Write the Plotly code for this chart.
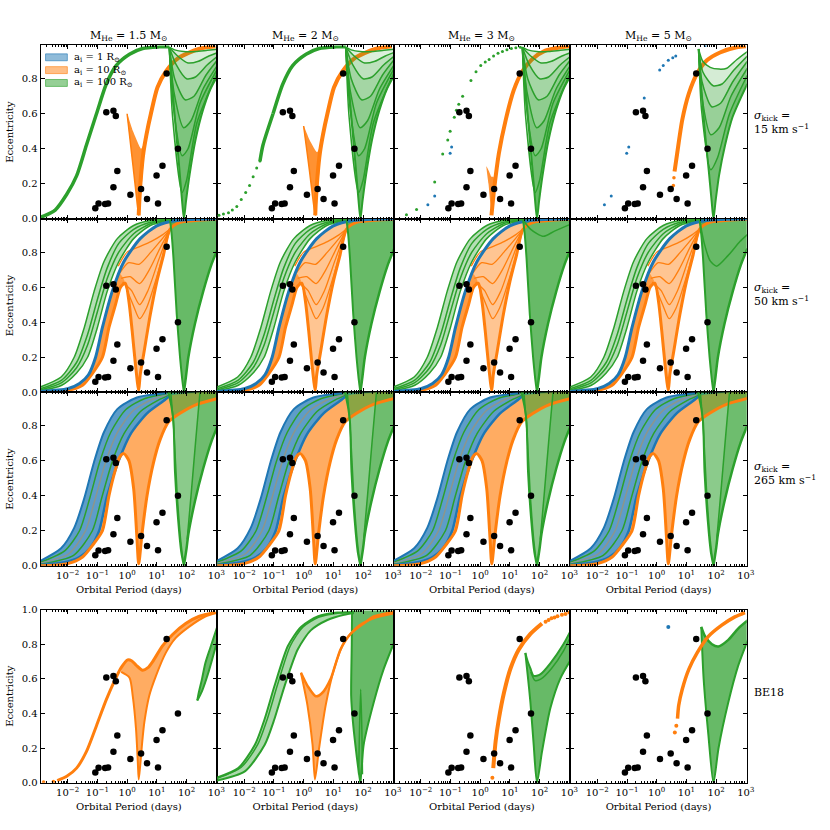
import plotly.graph_objects as go

BLUE = (31, 119, 180)
ORANGE = (255, 127, 14)
GREEN = (44, 160, 44)

# observed systems: log10 period [days], eccentricity
obs_logp = [-1.07, -0.96, -0.74, -0.64, -0.46, -0.33, -0.70, -0.46, -0.38,
            0.11, 0.47, 0.67, 0.99, 1.04, 1.19, 1.33, 1.71]
obs_ecc = [0.06, 0.087, 0.085, 0.088, 0.18, 0.273, 0.608, 0.617, 0.587,
           0.137, 0.17, 0.113, 0.248, 0.088, 0.303, 0.83, 0.40]

col_titles = ["M<sub>He</sub> = 1.5 M<sub>⊙</sub>", "M<sub>He</sub> = 2 M<sub>⊙</sub>",
              "M<sub>He</sub> = 3 M<sub>⊙</sub>", "M<sub>He</sub> = 5 M<sub>⊙</sub>"]
row_labels = ["<i>σ</i><sub>kick</sub> =<br>15 km s<sup>−1</sup>",
              "<i>σ</i><sub>kick</sub> =<br>50 km s<sup>−1</sup>",
              "<i>σ</i><sub>kick</sub> =<br>265 km s<sup>−1</sup>",
              "BE18"]
legend_names = ["a<sub>i</sub> = 1 R<sub>⊙</sub>", "a<sub>i</sub> = 10 R<sub>⊙</sub>",
                "a<sub>i</sub> = 100 R<sub>⊙</sub>"]
xtick_vals = [1e-2, 1e-1, 1e0, 1e1, 1e2, 1e3]
xtick_text = ["10<sup>−2</sup>", "10<sup>−1</sup>", "10<sup>0</sup>",
              "10<sup>1</sup>", "10<sup>2</sup>", "10<sup>3</sup>"]

# ---- curves, (log10 P, e) ----
# sigma = 15
g1_sig = [(-2.9, 0.01), (-2.81, 0.015), (-2.42, 0.05), (-2.03, 0.14), (-1.7, 0.245),
          (-1.37, 0.42), (-1.03, 0.6), (-0.7, 0.77), (-0.37, 0.875), (0.08, 0.94),
          (0.52, 0.973), (1.08, 0.982), (1.42, 0.983)]
g12_dots = [(-2.85, 0.02), (-2.7, 0.028), (-2.53, 0.035), (-2.4, 0.05), (-2.25, 0.07),
            (-2.1, 0.11), (-1.95, 0.15), (-1.82, 0.19), (-1.7, 0.24), (-1.58, 0.29),
            (-1.47, 0.33)]
o1_rise = [(0.39, 0.02), (0.41, 0.1), (0.47, 0.25), (0.55, 0.38), (0.65, 0.48), (0.8, 0.6),
           (1.02, 0.75), (1.3, 0.84), (1.74, 0.92), (2.41, 0.97), (2.97, 0.985)]
v11_up = [(0.0, 0.6), (0.2, 0.5), (0.47, 0.4), (0.55, 0.42)]
v11_lo = [(0.0, 0.6), (0.1, 0.45), (0.2, 0.3), (0.3, 0.15), (0.39, 0.02), (0.45, 0.15),
          (0.52, 0.3), (0.55, 0.38)]
v12_up = [(0.0, 0.53), (0.2, 0.45), (0.45, 0.38), (0.53, 0.4)]
v12_lo = [(0.0, 0.53), (0.1, 0.4), (0.2, 0.27), (0.3, 0.13), (0.39, 0.02), (0.45, 0.15),
          (0.53, 0.33)]
f1_lower = [(1.42, 0.98), (1.5, 0.8), (1.62, 0.55), (1.75, 0.3), (1.84, 0.12), (1.91, 0.0),
            (1.98, 0.1), (2.1, 0.25), (2.3, 0.45), (2.55, 0.62), (2.8, 0.74), (3.05, 0.82)]
f1_lines = [
    [(1.42, 0.98), (1.6, 0.965), (1.9, 0.955), (2.3, 0.955), (2.7, 0.962), (3.05, 0.968)],
    [(1.42, 0.98), (1.7, 0.93), (2.05, 0.89), (2.4, 0.9), (2.75, 0.93), (3.05, 0.95)],
    [(1.42, 0.98), (1.65, 0.88), (2.0, 0.8), (2.3, 0.81), (2.7, 0.88), (3.05, 0.93)],
    [(1.42, 0.98), (1.6, 0.8), (1.95, 0.68), (2.25, 0.7), (2.65, 0.82), (3.05, 0.91)],
    [(1.42, 0.98), (1.58, 0.72), (1.9, 0.52), (2.15, 0.56), (2.55, 0.74), (3.05, 0.88)],
    [(1.42, 0.98), (1.55, 0.65), (1.85, 0.36), (2.05, 0.4), (2.45, 0.66), (3.05, 0.86)],
    [(1.42, 0.98), (1.53, 0.58), (1.85, 0.15), (2.0, 0.22), (2.35, 0.55), (3.05, 0.84)],
]
g13_dots = [(-2.48, 0.024), (-2.14, 0.053), (-1.53, 0.21), (-1.26, 0.37), (-1.09, 0.45),
            (-1.01, 0.5), (-0.87, 0.58), (-0.8, 0.62), (-0.72, 0.655), (-0.59, 0.7),
            (-0.31, 0.79), (-0.14, 0.84), (0.02, 0.875), (0.17, 0.895), (0.3, 0.91),
            (0.45, 0.93), (0.6, 0.945), (0.75, 0.955), (0.9, 0.965), (1.05, 0.972),
            (1.2, 0.977), (1.35, 0.98)]
b13_dots = [(-1.76, 0.08), (-1.53, 0.13), (-1.01, 0.375), (-0.96, 0.41)]
v13 = [(0.21, 0.3), (0.28, 0.2), (0.34, 0.09), (0.38, 0.02), (0.43, 0.1), (0.47, 0.17),
       (0.45, 0.24), (0.38, 0.24), (0.3, 0.27), (0.21, 0.3)]
o13_rise = [(0.38, 0.02), (0.47, 0.17), (0.63, 0.375), (0.86, 0.565), (1.13, 0.735),
            (1.41, 0.84), (1.74, 0.91), (2.19, 0.96), (2.74, 0.98), (3.0, 0.985)]
b14_dots = [(-1.76, 0.08), (-1.53, 0.13), (-1.01, 0.375), (-0.94, 0.41), (-0.42, 0.69),
            (0.1, 0.85), (0.22, 0.875), (0.39, 0.905), (0.54, 0.92), (0.64, 0.93), (1.63, 0.99)]
o14_dots = [(0.56, 0.19), (0.58, 0.235)]
o14_rise = [(0.6, 0.27), (0.69, 0.375), (0.86, 0.565), (1.08, 0.715), (1.36, 0.83),
            (1.69, 0.905), (2.13, 0.95), (2.69, 0.98), (3.0, 0.985)]
f4_lower = [(1.41, 0.97), (1.5, 0.75), (1.62, 0.5), (1.75, 0.28), (1.85, 0.1), (1.91, 0.0),
            (1.98, 0.1), (2.1, 0.25), (2.3, 0.42), (2.55, 0.58), (2.8, 0.68), (3.05, 0.77)]
f4_lines = [
    [(1.41, 0.97), (1.55, 0.9), (1.8, 0.865), (2.1, 0.855), (2.36, 0.86), (2.7, 0.91), (3.05, 0.955)],
    [(1.41, 0.97), (1.55, 0.84), (1.9, 0.76), (2.2, 0.77), (2.6, 0.85), (3.05, 0.93)],
    [(1.41, 0.97), (1.53, 0.78), (1.85, 0.64), (2.15, 0.66), (2.55, 0.78), (3.05, 0.9)],
    [(1.41, 0.97), (1.52, 0.7), (1.82, 0.48), (2.1, 0.52), (2.5, 0.7), (3.05, 0.86)],
    [(1.41, 0.97), (1.51, 0.62), (1.82, 0.28), (2.05, 0.35), (2.45, 0.6), (3.05, 0.82)],
]

# sigma = 50
g2_left = [(-2.92, 0.03), (-2.22, 0.087), (-1.78, 0.2), (-1.44, 0.37), (-1.11, 0.576),
           (-0.78, 0.745), (-0.33, 0.877), (0.22, 0.952), (0.78, 0.98), (1.44, 0.987)]
g2_mid1 = [(-2.92, 0.02), (-2.2, 0.07), (-1.7, 0.17), (-1.33, 0.33), (-1.0, 0.53),
           (-0.67, 0.71), (-0.28, 0.85), (0.22, 0.93), (0.78, 0.97), (1.44, 0.985)]
g2_mid2 = [(-2.92, 0.013), (-2.2, 0.055), (-1.7, 0.14), (-1.33, 0.27), (-1.0, 0.46),
           (-0.67, 0.65), (-0.28, 0.8), (0.22, 0.905), (0.78, 0.962), (1.44, 0.983)]
g2_right = [(-2.92, 0.008), (-2.2, 0.04), (-1.7, 0.11), (-1.33, 0.2), (-1.0, 0.37),
            (-0.67, 0.576), (-0.28, 0.745), (0.22, 0.877), (0.78, 0.952), (1.44, 0.98)]
b2 = [(-2.92, 0.005), (-2.0, 0.02), (-1.6, 0.05), (-1.3, 0.1), (-1.06, 0.2), (-0.83, 0.37),
      (-0.5, 0.576), (-0.11, 0.745), (0.44, 0.877), (1.0, 0.95), (1.67, 0.98), (3.05, 0.99)]
o2_low = [(-2.92, 0.0), (-2.0, 0.01), (-1.5, 0.04), (-1.2, 0.1), (-0.83, 0.2), (-0.61, 0.37),
          (-0.39, 0.5), (-0.22, 0.6), (-0.06, 0.623), (0.06, 0.52), (0.17, 0.35),
          (0.28, 0.16), (0.39, 0.01), (0.44, 0.1), (0.56, 0.22), (0.78, 0.444), (1.0, 0.632),
          (1.22, 0.78), (1.44, 0.93), (1.78, 0.97), (2.4, 0.982), (3.05, 0.987)]
o2_fan = [
    [(-0.3, 0.72), (0.0, 0.8), (0.4, 0.83), (0.8, 0.86), (1.2, 0.9), (1.44, 0.93)],
    [(-0.25, 0.68), (0.05, 0.74), (0.4, 0.73), (0.8, 0.8), (1.2, 0.88), (1.44, 0.93)],
    [(-0.2, 0.65), (0.1, 0.66), (0.42, 0.62), (0.75, 0.7), (1.1, 0.82), (1.44, 0.93)],
    [(-0.15, 0.63), (0.15, 0.58), (0.42, 0.5), (0.7, 0.58), (1.05, 0.75), (1.44, 0.93)],
    [(-0.1, 0.625), (0.2, 0.5), (0.42, 0.42), (0.65, 0.48), (1.0, 0.66), (1.44, 0.93)],
]
gf2_left = [(1.44, 0.99), (1.5, 0.9), (1.56, 0.764), (1.67, 0.444), (1.78, 0.2),
            (1.85, 0.08), (1.91, 0.0)]
gf2_right = [(1.91, 0.0), (1.98, 0.09), (2.06, 0.2), (2.28, 0.39), (2.56, 0.576),
             (2.83, 0.726), (3.05, 0.82), (3.05, 0.99)]
g2_dip3 = [(1.44, 0.985), (1.7, 0.93), (2.13, 0.89), (2.5, 0.92), (3.05, 0.96)]
g2_dip4 = [(1.44, 0.985), (1.6, 0.85), (1.8, 0.75), (2.02, 0.72), (2.4, 0.78), (2.8, 0.86),
           (3.05, 0.9)]

# sigma = 265
bg3_left = [(-2.92, 0.028), (-2.22, 0.1), (-1.78, 0.216), (-1.44, 0.386), (-1.11, 0.594),
            (-0.78, 0.762), (-0.33, 0.894), (0.33, 0.96), (1.33, 0.984), (3.05, 0.99)]
bg3_mid1 = [(-2.92, 0.02), (-2.1, 0.085), (-1.6, 0.2), (-1.25, 0.39), (-0.92, 0.594),
            (-0.55, 0.762), (-0.05, 0.89), (0.6, 0.955), (1.4, 0.982)]
bg3_mid2 = [(-2.92, 0.014), (-1.95, 0.07), (-1.4, 0.2), (-1.06, 0.39), (-0.72, 0.594),
            (-0.33, 0.76), (0.2, 0.885), (0.85, 0.95), (1.42, 0.978)]
bg3_mid3 = [(-2.92, 0.009), (-1.8, 0.06), (-1.17, 0.2), (-0.85, 0.39), (-0.5, 0.594),
            (-0.1, 0.755), (0.45, 0.88), (1.05, 0.945), (1.44, 0.975)]
bg3_right = [(-2.92, 0.005), (-2.1, 0.02), (-1.6, 0.05), (-1.25, 0.1), (-0.94, 0.2),
             (-0.67, 0.4), (-0.28, 0.6), (0.11, 0.75), (0.67, 0.87), (1.22, 0.94),
             (1.44, 0.97), (3.05, 0.99)]
o3_low = [(-2.92, 0.0), (-2.0, 0.012), (-1.5, 0.05), (-1.15, 0.12), (-0.83, 0.2),
          (-0.61, 0.4), (-0.39, 0.55), (-0.25, 0.62), (-0.11, 0.64), (0.06, 0.6),
          (0.22, 0.44), (0.33, 0.16), (0.39, 0.01), (0.5, 0.18), (0.67, 0.4), (0.89, 0.59),
          (1.11, 0.72), (1.39, 0.82), (1.78, 0.87), (2.33, 0.92), (3.05, 0.955)]
gf3_left = [(1.39, 0.99), (1.5, 0.9), (1.56, 0.82), (1.61, 0.536), (1.72, 0.254),
            (1.82, 0.08), (1.91, 0.0)]
gf3_right = [(1.91, 0.0), (2.0, 0.1), (2.06, 0.18), (2.28, 0.367), (2.56, 0.555),
             (2.83, 0.706), (3.05, 0.8), (3.05, 0.99)]
gf3_diag = [(2.45, 0.99), (2.3, 0.7), (2.15, 0.4), (2.02, 0.15)]
gf3_edge = [(1.47, 0.99), (1.58, 0.75), (1.68, 0.42), (1.8, 0.15), (1.89, 0.02)]

# BE18
o41_tail = [(-2.81, 0.005), (-2.48, 0.008)]
o41_up = [(-2.35, 0.013), (-2.03, 0.038), (-1.7, 0.085), (-1.37, 0.18), (-1.03, 0.33),
          (-0.7, 0.48), (-0.42, 0.59), (-0.2, 0.665), (0.02, 0.71), (0.15, 0.705),
          (0.3, 0.68), (0.52, 0.65), (0.7, 0.665), (0.86, 0.7), (1.19, 0.79), (1.52, 0.855),
          (1.97, 0.92), (2.41, 0.96), (2.97, 0.985)]
o41_lo = [(-0.2, 0.64), (0.08, 0.607), (0.19, 0.5), (0.3, 0.31), (0.36, 0.12), (0.39, 0.02),
          (0.44, 0.1), (0.5, 0.22), (0.58, 0.35), (0.74, 0.5), (0.97, 0.617), (1.3, 0.75),
          (1.63, 0.835), (2.08, 0.9), (2.63, 0.96), (3.0, 0.98)]
g41_up = [(2.36, 0.475), (2.41, 0.52), (2.52, 0.6), (2.63, 0.69), (2.8, 0.78), (3.05, 0.91)]
g41_lo = [(2.36, 0.475), (2.52, 0.53), (2.74, 0.64), (3.05, 0.83)]
g42_a = [(-2.92, 0.03), (-2.2, 0.085), (-1.64, 0.22), (-1.31, 0.37), (-0.98, 0.56),
         (-0.53, 0.79), (-0.09, 0.9), (0.47, 0.96), (1.13, 0.983), (1.69, 0.985)]
g42_m = [(-2.92, 0.025), (-2.1, 0.09), (-1.55, 0.22), (-1.22, 0.37), (-0.89, 0.56),
         (-0.45, 0.79), (-0.02, 0.9), (0.5, 0.955), (1.2, 0.98), (1.69, 0.985)]
g42_b = [(-2.92, 0.013), (-1.98, 0.066), (-1.31, 0.22), (-0.98, 0.37), (-0.64, 0.56),
         (-0.2, 0.77), (0.24, 0.88), (0.8, 0.94), (1.36, 0.97), (1.69, 0.98)]
o42_up = [(-0.09, 0.635), (0.13, 0.56), (0.41, 0.5), (0.63, 0.52), (0.91, 0.6), (1.24, 0.77),
          (1.58, 0.86), (2.02, 0.92), (2.36, 0.96), (3.02, 0.985)]
o42_lo = [(-0.09, 0.635), (0.13, 0.446), (0.3, 0.22), (0.38, 0.02), (0.52, 0.2),
          (0.74, 0.446), (1.02, 0.655), (1.36, 0.81), (1.8, 0.9), (2.36, 0.95), (3.02, 0.977)]
gf42_left = [(1.63, 0.995), (1.62, 0.8), (1.6, 0.5), (1.66, 0.35), (1.74, 0.22),
             (1.84, 0.08), (1.91, 0.0)]
gf42_right = [(1.91, 0.0), (1.96, 0.1), (2.02, 0.22), (2.36, 0.465), (2.69, 0.655),
              (3.08, 0.825), (3.08, 0.995)]
gf42_spike = [(1.85, 0.05), (1.88, 0.3), (1.92, 0.54), (1.96, 0.3), (1.98, 0.05)]
o43_dots = [(0.41, 0.03), (2.2, 0.93), (2.3, 0.94), (2.4, 0.95), (2.5, 0.955), (2.6, 0.962),
            (2.75, 0.97), (2.87, 0.975), (3.0, 0.983)]
o43_rise = [(0.44, 0.085), (0.52, 0.24), (0.63, 0.37), (0.8, 0.52), (1.02, 0.66),
            (1.3, 0.77), (1.69, 0.86), (2.08, 0.92)]
g43_up = [(1.52, 0.75), (1.6, 0.7), (1.69, 0.66), (1.8, 0.617), (2.02, 0.626), (2.36, 0.69),
          (2.8, 0.8), (3.08, 0.89)]
g43_lo = [(1.52, 0.75), (1.6, 0.62), (1.69, 0.465), (1.8, 0.22), (1.91, 0.0), (2.08, 0.18),
          (2.36, 0.43), (2.69, 0.6), (3.08, 0.72)]
g43_in = [(1.7, 0.64), (1.85, 0.59), (2.05, 0.6), (2.4, 0.66), (2.8, 0.76), (3.08, 0.86)]
b44_dots = [(0.39, 0.9)]
o44_dots = [(0.61, 0.29), (0.66, 0.33)]
o44_rise = [(0.7, 0.37), (0.74, 0.446), (0.86, 0.54), (1.08, 0.655), (1.36, 0.75),
            (1.74, 0.845), (2.19, 0.91), (2.63, 0.958), (2.97, 0.983)]
g44_up = [(1.5, 0.9), (1.63, 0.845), (1.86, 0.8), (2.08, 0.787), (2.41, 0.825),
          (2.74, 0.89), (3.08, 0.94)]
g44_lo = [(1.5, 0.9), (1.58, 0.6), (1.74, 0.275), (1.91, 0.0), (2.08, 0.2), (2.41, 0.465),
          (2.74, 0.675), (3.08, 0.83)]

fig = go.Figure()


def rgba(c, a=1.0):
    return "rgba(%d,%d,%d,%.2f)" % (c[0], c[1], c[2], a)


def xy(pts):
    return [10 ** p for p, _ in pts], [e for _, e in pts]


def axes(k):
    s = "" if k == 1 else str(k)
    return dict(xaxis="x" + s, yaxis="y" + s, showlegend=False, hoverinfo="skip")


def line(k, pts, c, w=1.5, a=1.0):
    x, y = xy(pts)
    fig.add_trace(go.Scatter(x=x, y=y, mode="lines",
                             line=dict(color=rgba(c, a), width=w, shape="spline", smoothing=0.7),
                             **axes(k)))


def band(k, upper, lower, c, a):
    # closed outline: along upper, back along lower
    x, y = xy(upper + lower[::-1])
    fig.add_trace(go.Scatter(x=x, y=y, mode="lines", fill="toself", fillcolor=rgba(c, a),
                             line=dict(width=0, shape="spline", smoothing=0.5), **axes(k)))


def dots(k, pts, c, size=3.5):
    x, y = xy(pts)
    fig.add_trace(go.Scatter(x=x, y=y, mode="markers", marker=dict(color=rgba(c), size=size),
                             **axes(k)))


def observed(k):
    fig.add_trace(go.Scatter(x=[10 ** p for p in obs_logp], y=obs_ecc, mode="markers",
                             marker=dict(color="black", size=6.5), **axes(k)))


def fan(k, lines, lower, a):
    for ln in lines:
        band(k, ln, lower, GREEN, a)
    for ln in lines:
        line(k, ln, GREEN, 1.5)
    line(k, lower, GREEN, 2)


for r in range(4):
    for c in range(4):
        k = r * 4 + c + 1
        if r == 0:
            if c < 2:
                if c == 0:
                    line(k, g1_sig, GREEN, 3.5)
                else:
                    dots(k, g12_dots, GREEN, 3)
                    line(k, g1_sig[6:], GREEN, 3.5)
                    line(k, [(-1.47, 0.33), (-1.37, 0.42), (-1.03, 0.6)], GREEN, 3.5)
                vu, vl = (v11_up, v11_lo) if c == 0 else (v12_up, v12_lo)
                band(k, vu, vl, ORANGE, 0.85)
                line(k, vl, ORANGE, 1.5)
                line(k, o1_rise, ORANGE, 4)
            elif c == 2:
                dots(k, g13_dots, GREEN, 3)
                dots(k, b13_dots, BLUE, 3)
                band(k, v13, [], ORANGE, 0.85)
                line(k, o13_rise, ORANGE, 4)
            else:
                dots(k, b14_dots, BLUE, 3)
                dots(k, o14_dots, ORANGE, 3.5)
                line(k, o14_rise, ORANGE, 4)
            if c < 3:
                fan(k, f1_lines, f1_lower, 0.17)
            else:
                fan(k, f4_lines, f4_lower, 0.2)
        elif r == 1:
            band(k, g2_left, g2_right, GREEN, 0.35)
            band(k, b2, o2_low, ORANGE, 0.45)
            band(k, b2[:7] + [(-0.25, 0.68)], o2_low[:9], ORANGE, 0.6)
            band(k, gf2_left + gf2_right, [], GREEN, 0.72)
            for ln in (g2_left, g2_mid1, g2_mid2, g2_right):
                line(k, ln, GREEN, 1.5)
            for ln in o2_fan:
                line(k, ln, ORANGE, 1.3)
            line(k, o2_low, ORANGE, 3)
            line(k, b2, BLUE, 3)
            line(k, gf2_left, GREEN, 2)
            line(k, gf2_right[:-1], GREEN, 2.5)
            if c == 2:
                line(k, g2_dip3, GREEN, 1.5)
            if c == 3:
                line(k, g2_dip4, GREEN, 1.5)
        elif r == 2:
            band(k, bg3_left, bg3_right, BLUE, 0.72)
            band(k, bg3_right, o3_low, ORANGE, 0.65)
            band(k, gf3_left + gf3_right, [], GREEN, 0.55)
            band(k, gf3_diag + gf3_right[2:], [], GREEN, 0.3)
            line(k, bg3_mid1, GREEN, 1.5)
            line(k, bg3_mid2, (140, 150, 140), 1.5)
            line(k, bg3_mid3, GREEN, 1.5)
            line(k, bg3_right[:-1], BLUE, 2.5)
            line(k, bg3_left[:-1], BLUE, 2)
            line(k, o3_low, ORANGE, 3)
            line(k, gf3_left, GREEN, 2)
            line(k, gf3_edge, GREEN, 1.5)
            line(k, gf3_diag, GREEN, 1.5)
            line(k, gf3_right[:-1], GREEN, 2.5)
        else:
            if c == 0:
                dots(k, o41_tail, ORANGE, 3.5)
                band(k, o41_up[7:], o41_lo, ORANGE, 0.65)
                line(k, o41_up, ORANGE, 3)
                line(k, o41_lo, ORANGE, 2)
                band(k, g41_up, g41_lo, GREEN, 0.7)
                line(k, g41_up, GREEN, 2)
                line(k, g41_lo, GREEN, 2)
            elif c == 1:
                band(k, g42_a, g42_b, GREEN, 0.4)
                line(k, g42_a, GREEN, 2)
                line(k, g42_m, GREEN, 1.5)
                line(k, g42_b, GREEN, 2)
                band(k, gf42_left + gf42_right, [], GREEN, 0.72)
                line(k, gf42_left, GREEN, 2)
                line(k, gf42_right[:-1], GREEN, 2)
                line(k, gf42_spike, GREEN, 1.5)
                band(k, o42_up, o42_lo, ORANGE, 0.65)
                line(k, o42_up, ORANGE, 2.5)
                line(k, o42_lo, ORANGE, 2)
            elif c == 2:
                band(k, g43_up, g43_lo, GREEN, 0.72)
                line(k, g43_up, GREEN, 2)
                line(k, g43_in, GREEN, 1.5)
                line(k, g43_lo, GREEN, 2)
                line(k, o43_rise, ORANGE, 4)
                dots(k, o43_dots, ORANGE, 4)
            else:
                band(k, g44_up, g44_lo, GREEN, 0.72)
                line(k, g44_up, GREEN, 2.5)
                line(k, g44_lo, GREEN, 2)
                dots(k, b44_dots, BLUE, 4)
                dots(k, o44_dots, ORANGE, 4)
                line(k, o44_rise, ORANGE, 3.5)
        observed(k)

W = 830.0
col_px = [(41, 219.3), (219.3, 397.5), (397.5, 575.8), (575.8, 754)]
row_px = [(41, 216.7), (216.7, 392.5), (392.5, 568.3), (612.7, 788.3)]
minor_vals = [m * 10 ** d for d in range(-3, 3) for m in range(2, 10)]
font = dict(family="DejaVu Serif", size=10, color="black")

layout = dict(width=830, height=830, margin=dict(l=0, r=0, t=0, b=0),
              paper_bgcolor="white", plot_bgcolor="white", font=font, showlegend=False)
for r in range(4):
    for c in range(4):
        k = r * 4 + c + 1
        s = "" if k == 1 else str(k)
        x0, x1 = col_px[c]
        y0, y1 = row_px[r]
        xa = dict(type="log", range=[-2.91, 3.03], domain=[x0 / W, x1 / W], anchor="y" + s,
                  showline=True, linecolor="black", linewidth=1, mirror="ticks",
                  ticks="inside", ticklen=4, tickcolor="black", tickvals=xtick_vals,
                  ticktext=xtick_text, showticklabels=(r >= 2), showgrid=False, zeroline=False,
                  minor=dict(ticks="inside", ticklen=2, tickvals=minor_vals, tickcolor="black",
                             showgrid=False),
                  tickfont=dict(size=10))
        if r >= 2:
            xa["title"] = dict(text="Orbital Period (days)", font=dict(size=10), standoff=6)
        ya = dict(range=[0, 1.0 if r == 3 else 0.99], domain=[1 - y1 / W, 1 - y0 / W],
                  anchor="x" + s, showline=True, linecolor="black", linewidth=1,
                  mirror="ticks", ticks="inside", ticklen=4, tickcolor="black",
                  tick0=0, dtick=0.2, tickformat=".1f", showticklabels=(c == 0),
                  showgrid=False, zeroline=False, tickfont=dict(size=10))
        if c == 0:
            ya["title"] = dict(text="Eccentricity", font=dict(size=10), standoff=6)
        layout["xaxis" + s] = xa
        layout["yaxis" + s] = ya

ann = []
for c, t in enumerate(col_titles):
    ann.append(dict(text=t, x=sum(col_px[c]) / 2 / W, y=1 - 31 / W, xref="paper",
                    yref="paper", xanchor="center", yanchor="middle", showarrow=False,
                    font=dict(size=11)))
for r, t in enumerate(row_labels):
    ymid = [119, 293, 475, 697][r]
    ann.append(dict(text=t, x=759 / W, y=1 - ymid / W, xref="paper", yref="paper",
                    xanchor="left", yanchor="middle", align="left", showarrow=False,
                    font=dict(size=11)))

# legend drawn by hand inside the first panel
shapes = []
for i, (name, col) in enumerate(zip(legend_names, (BLUE, ORANGE, GREEN))):
    yc = 53 + 13 * i
    shapes.append(dict(type="rect", xref="paper", yref="paper", x0=46 / W, x1=68 / W,
                       y0=1 - (yc + 3.5) / W, y1=1 - (yc - 3.5) / W,
                       fillcolor=rgba(col, 0.5), line=dict(color=rgba(col, 0.6), width=1)))
    ann.append(dict(text=name, x=73 / W, y=1 - yc / W, xref="paper", yref="paper",
                    xanchor="left", yanchor="middle", showarrow=False, font=dict(size=10)))
layout["annotations"] = ann
layout["shapes"] = shapes
fig.update_layout(**layout)

# fit the page exactly to the browser window
fit_js = ("document.body.style.margin='0px';"
          "document.body.style.overflow='hidden';"
          "var gd=document.getElementById('{plot_id}');"
          "Plotly.relayout(gd,{width:window.innerWidth,height:window.innerHeight});")
fig.write_html("out.html", config={"displayModeBar": False}, post_script=fit_js)
